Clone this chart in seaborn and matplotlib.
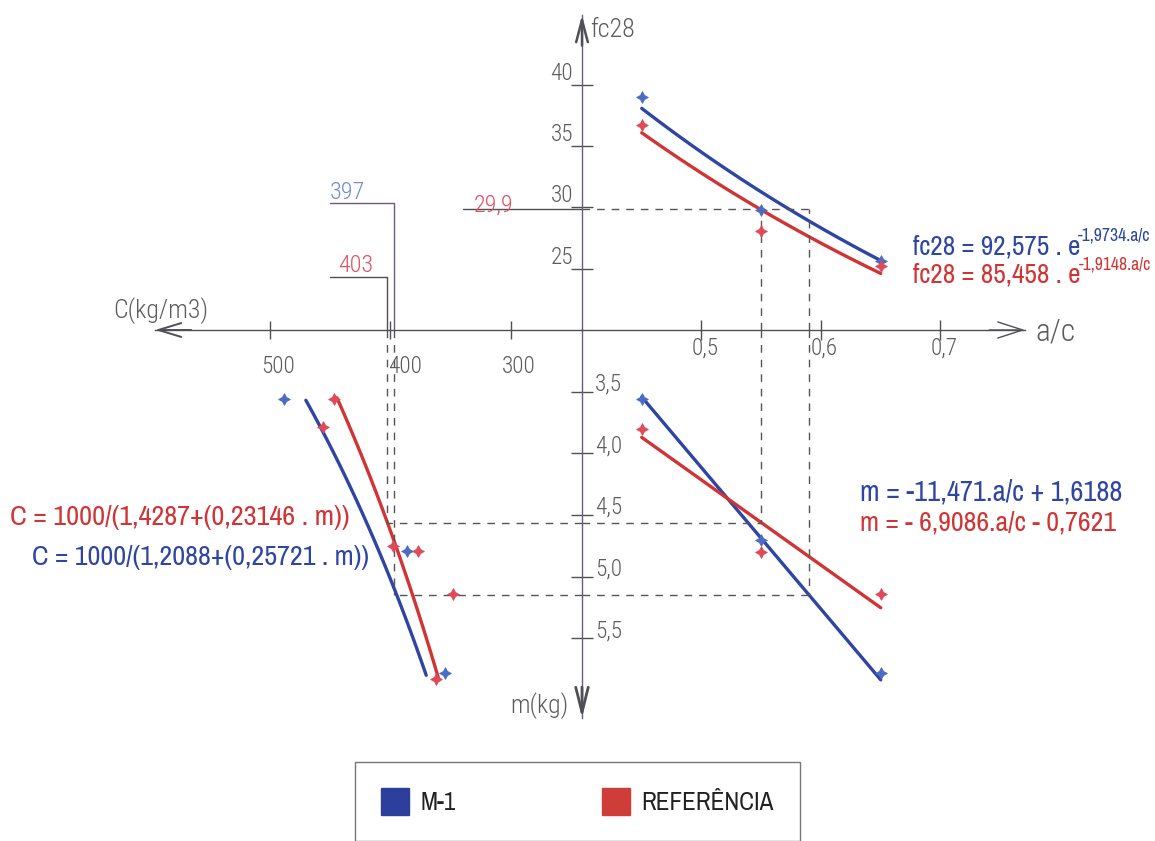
import numpy as np
import matplotlib
matplotlib.use("Agg")
import matplotlib.pyplot as plt
from matplotlib import font_manager
from matplotlib.patches import Patch
import seaborn as sns

# ---- measured points -------------------------------------------------
ac_pts = [0.45, 0.55, 0.65]
fc_m1_pts = [39.0, 29.8, 25.6]
fc_ref_pts = [36.7, 28.1, 25.2]
m_m1_pts = [3.56, 4.70, 5.78]
m_ref_pts = [3.80, 4.80, 5.14]
c_m1_pts = [488, 386, 355]
c_m1_pts_m = [3.56, 4.79, 5.78]
c_ref_pts = [447, 456, 398, 377, 348, 362]
c_ref_pts_m = [3.56, 3.79, 4.75, 4.79, 5.14, 5.83]

# ---- fitted laws, coefficients as printed --------------------------------
abrams_m1 = [92.575, -1.9734]      # fc28 = k1 . e^(k2.a/c)
abrams_ref = [85.458, -1.9148]
lyse_m1 = [-11.471, 1.6188]        # m = k3.a/c + k4 (m axis points down)
lyse_ref = [-6.9086, -0.7621]
molinari_m1 = [1.2088, 0.25721]    # C = 1000/(k5 + k6.m)
molinari_ref = [1.4287, 0.23146]
ac_fit_range = [0.45, 0.65]
m_fit_range_m1 = [3.57, 5.80]
m_fit_range_ref = [3.55, 5.84]

# ---- design values -----------------------------------------------------
fc_design = 29.9
ac_design_ref = 0.55
ac_design_m1 = 0.59
c_design_ref = 403
c_design_m1 = 397

fc_ticks = [25, 30, 35, 40]
ac_ticks = [0.5, 0.6, 0.7]
m_ticks = [3.5, 4.0, 4.5, 5.0, 5.5]
c_ticks = [500, 400, 300]

eq_fc_m1 = ("fc28 = 92,575 . e", "-1,9734.a/c")
eq_fc_ref = ("fc28 = 85,458 . e", "-1,9148.a/c")
eq_m_m1 = "m = -11,471.a/c + 1,6188"
eq_m_ref = "m = - 6,9086.a/c - 0,7621"
eq_c_ref = "C = 1000/(1,4287+(0,23146 . m))"
eq_c_m1 = "C = 1000/(1,2088+(0,25721 . m))"
series_names = ["M-1", "REFERÊNCIA"]

# ---- fonts: a narrow sans for the printed formulas ------------------------
sns.set_theme(style="white")
installed = {f.name for f in font_manager.fontManager.ttflist}
narrow_pref = ["Arial Narrow", "Liberation Sans Narrow", "Archivo Narrow", "PT Sans Narrow",
               "Roboto Condensed", "Pragati Narrow", "Fira Sans Condensed",
               "IBM Plex Sans Condensed", "Open Sans Condensed", "Asap Condensed",
               "Barlow Semi Condensed", "Encode Sans Condensed"]
NARROW = next((n for n in narrow_pref if n in installed), "Liberation Sans")
thin_pref = ["Roboto Condensed", "Fira Sans Condensed", "IBM Plex Sans Condensed",
             "Barlow Semi Condensed", NARROW]
THIN = next((n for n in thin_pref if n in installed), NARROW)
plt.rcParams["font.family"] = [NARROW, "Liberation Sans", "DejaVu Sans"]

BLUE = "#2e45a3"
RED = "#d13434"
BLUE_PT = "#4a6cc4"
RED_PT = "#e04a58"
AXIS = "#4f4f55"
VAXIS = "#6c5a80"
DASH = "#555555"
GREY_TXT = "#5c5c5c"

W, H = 1155, 841
OX, OY = 582, 330                  # origin of the four quadrants (pixels)
AC_PX, FC_PX, M_PX, C_PX = 1195.0, 12.25, 123.3, 1.205
ac0, fc0, m0, c0 = 0.4, 20.0, 3.0, 241.0


def fx(px):
    return px / W


def fy(py):
    return 1 - py / H


fig = plt.figure(figsize=(W / 100, H / 100), dpi=100)
fig.patch.set_facecolor("white")
renderer = fig.canvas.get_renderer()


def size_for(s, width_px, family, weight="normal"):
    """Font size (pt) giving the string a rendered width of width_px."""
    t = fig.text(0, 0, s, fontsize=20, family=family, weight=weight)
    w = t.get_window_extent(renderer).width
    t.remove()
    return 20 * width_px / w


x0, y0 = fx(OX), fy(OY)
ax_fc = fig.add_axes([x0, y0, 1 - x0, 1 - y0])   # fc28 vs a/c
ax_m = fig.add_axes([x0, 0, 1 - x0, y0])         # m vs a/c
ax_c = fig.add_axes([0, 0, x0, y0])              # m vs C
ax_q = fig.add_axes([0, y0, x0, 1 - y0])         # fc28 vs C (leaders)

ax_fc.set_xlim(ac0, ac0 + (W - OX) / AC_PX)
ax_fc.set_ylim(fc0, fc0 + OY / FC_PX)
ax_m.set_xlim(ax_fc.get_xlim())
ax_m.set_ylim(m0 + (H - OY) / M_PX, m0)
ax_c.set_xlim(c0 + OX / C_PX, c0)
ax_c.set_ylim(ax_m.get_ylim())
ax_q.set_xlim(ax_c.get_xlim())
ax_q.set_ylim(ax_fc.get_ylim())

for ax in (ax_fc, ax_m, ax_c, ax_q):
    ax.patch.set_alpha(0)
    ax.grid(False)
    for sp in ax.spines.values():
        sp.set_visible(False)
    ax.tick_params(which="both", left=False, right=False, top=False, bottom=False,
                   labelleft=False, labelright=False, labeltop=False, labelbottom=False)

# axis ends (pixel positions of arrow tips)
ac_end = ac0 + (1025 - OX) / AC_PX
c_end = c0 + (OX - 155) / C_PX
fc_end = fc0 + (OY - 15) / FC_PX
m_end = m0 + (718 - OY) / M_PX

ax_fc.spines["left"].set_visible(True)
ax_fc.spines["left"].set_bounds(fc0, fc_end)
ax_fc.spines["left"].set_color(VAXIS)
ax_fc.spines["bottom"].set_visible(True)
ax_fc.spines["bottom"].set_bounds(ac0, ac_end)
ax_fc.spines["bottom"].set_color(AXIS)
ax_m.spines["left"].set_visible(True)
ax_m.spines["left"].set_bounds(m0, m_end)
ax_m.spines["left"].set_color(VAXIS)
ax_c.spines["top"].set_visible(True)
ax_c.spines["top"].set_bounds(c0, c_end)
ax_c.spines["top"].set_color(AXIS)
for ax in (ax_fc, ax_m, ax_c):
    for sp in ax.spines.values():
        sp.set_linewidth(1.0)

tick_kw = dict(direction="inout", width=1.0, color=AXIS)
ax_fc.set_yticks(fc_ticks)
ax_fc.tick_params(axis="y", left=True, length=16, **tick_kw)
ax_fc.set_xticks(ac_ticks)
ax_fc.tick_params(axis="x", bottom=True, length=14, **tick_kw)
ax_m.set_xticks([])
ax_m.set_yticks(m_ticks)
ax_m.tick_params(axis="y", left=True, length=16, **tick_kw)
ax_c.set_yticks([])
ax_c.set_xticks(c_ticks)
ax_c.tick_params(axis="x", top=True, length=13, **tick_kw)

# tick labels (thin drafting style)
TICK_SIZE = size_for("500", 34, THIN, "light")
lab = dict(fontsize=TICK_SIZE, family=THIN, weight="light", color=GREY_TXT,
           textcoords="offset pixels")
for v in fc_ticks:
    ax_fc.annotate(f"{v}", xy=(0, v), xycoords=("axes fraction", "data"),
                   xytext=(-9, 5), ha="right", va="baseline", **lab)
for v in ac_ticks:
    ax_fc.annotate(f"{v:.1f}".replace(".", ","), xy=(v, 0), xycoords=("data", "axes fraction"),
                   xytext=(-10, -7), ha="left", va="top", **lab)
for v in m_ticks:
    ax_m.annotate(f"{v:.1f}".replace(".", ","), xy=(0, v), xycoords=("axes fraction", "data"),
                  xytext=(13, 1), ha="left", va="baseline", **lab)
for v in c_ticks:
    ax_c.annotate(f"{v}", xy=(v, 1), xycoords=("data", "axes fraction"),
                  xytext=(8 if v != 400 else 15, -25), ha="center", va="top", **lab)


# axis arrows
def arrow(ax, tip, tail, hl, hw, lw):
    ax.annotate("", xy=tip, xytext=tail, annotation_clip=False,
                arrowprops=dict(arrowstyle=f"->,head_length={hl},head_width={hw}",
                                color=AXIS, lw=lw, shrinkA=0, shrinkB=0,
                                mutation_scale=10, clip_on=False))


arrow(ax_fc, (ac_end, fc0), (ac_end - 0.03, fc0), 1.8, 0.58, 1.0)
arrow(ax_fc, (ac0, fc_end), (ac0, fc_end - 2.5), 1.6, 0.42, 1.8)
arrow(ax_c, (c_end, m0), (c_end - 30, m0), 1.65, 0.5, 1.4)
arrow(ax_m, (ac0, m_end), (ac0, m_end - 0.25), 1.8, 0.45, 2.0)

ax_lab = dict(color=GREY_TXT, family=THIN, weight="light", ha="left", va="baseline")
for s, x, y, w in (("fc28", 590, 37, 45), ("a/c", 1035, 340, 40),
                   ("C(kg/m3)", 113, 318, 95), ("m(kg)", 510, 713, 58)):
    fig.text(fx(x), fy(y), s, fontsize=size_for(s, w, THIN, "light"), **ax_lab)

# ---- fitted curves -------------------------------------------------------------
ac_line = np.linspace(ac_fit_range[0], ac_fit_range[1], 80)
line_kw = dict(linewidth=2.4, estimator=None, sort=False, legend=False)

for k, col in ((abrams_m1, BLUE), (abrams_ref, RED)):
    sns.lineplot(x=ac_line, y=k[0] * np.exp(k[1] * ac_line), ax=ax_fc, color=col, **line_kw)

for k, col in ((lyse_m1, BLUE), (lyse_ref, RED)):
    sns.lineplot(x=ac_line, y=-(k[0] * ac_line + k[1]), ax=ax_m, color=col, **line_kw)

for k, rng, col in ((molinari_m1, m_fit_range_m1, BLUE), (molinari_ref, m_fit_range_ref, RED)):
    m_line = np.linspace(rng[0], rng[1], 80)
    sns.lineplot(x=1000 / (k[0] + k[1] * m_line), y=m_line, ax=ax_c, color=col, **line_kw)

# ---- measured points -----------------------------------------------------------
pt_kw = dict(marker=(4, 1, 0), s=70, linewidth=0.6, zorder=5, legend=False)
sns.scatterplot(x=ac_pts, y=fc_m1_pts, ax=ax_fc, color=BLUE_PT, edgecolor=BLUE_PT, **pt_kw)
sns.scatterplot(x=ac_pts, y=fc_ref_pts, ax=ax_fc, color=RED_PT, edgecolor=RED_PT, **pt_kw)
sns.scatterplot(x=ac_pts, y=m_m1_pts, ax=ax_m, color=BLUE_PT, edgecolor=BLUE_PT, **pt_kw)
sns.scatterplot(x=ac_pts, y=m_ref_pts, ax=ax_m, color=RED_PT, edgecolor=RED_PT, **pt_kw)
sns.scatterplot(x=c_m1_pts, y=c_m1_pts_m, ax=ax_c, color=BLUE_PT, edgecolor=BLUE_PT, **pt_kw)
sns.scatterplot(x=c_ref_pts, y=c_ref_pts_m, ax=ax_c, color=RED_PT, edgecolor=RED_PT, **pt_kw)

# ---- design path ------------------------------------------------------------------
m_design_ref = -(lyse_ref[0] * ac_design_ref + lyse_ref[1])
m_design_m1 = -(lyse_m1[0] * ac_design_m1 + lyse_m1[1])
dash = dict(color=DASH, linewidth=1.0, linestyle=(0, (5.5, 5)))

ax_fc.plot([ac0, ac_design_m1], [fc_design, fc_design], **dash)
for a in (ac_design_ref, ac_design_m1):
    ax_fc.plot([a, a], [fc0, fc_design], **dash)
for a, mv in ((ac_design_ref, m_design_ref), (ac_design_m1, m_design_m1)):
    ax_m.plot([a, a], [m0, mv], **dash)
    ax_m.plot([ac0, a], [mv, mv], **dash)
for cv, mv in ((c_design_ref, m_design_ref), (c_design_m1, m_design_m1)):
    ax_c.plot([c0, cv], [mv, mv], **dash)
    ax_c.plot([cv, cv], [m0, mv], **dash)

# leaders in the upper-left quadrant
lead = dict(color=AXIS, linewidth=1.0)
ax_q.plot([c0, 340], [fc_design, fc_design], **lead)
ax_q.plot([c_design_m1, c_design_m1, 450], [fc0, 30.4, 30.4], color=VAXIS, linewidth=1.0)
ax_q.plot([c_design_ref, c_design_ref, 450], [fc0, 24.3, 24.3], **lead)

lead_txt = dict(fontsize=size_for("397", 35, THIN, "light"), family=THIN, weight="light",
                ha="left", va="baseline")
fig.text(fx(474), fy(212), f"{fc_design:.1f}".replace(".", ","), color="#e05064", **lead_txt)
fig.text(fx(330), fy(199), f"{c_design_m1}", color="#6f8ccf", **lead_txt)
fig.text(fx(338), fy(272), f"{c_design_ref}", color="#e05064", **lead_txt)

# ---- equations ------------------------------------------------------------------------
fc_main = size_for(eq_fc_m1[0], 167, NARROW)
fc_sup = size_for(eq_fc_m1[1], 72, NARROW)
for (main, sup), col, base in ((eq_fc_m1, BLUE, 255), (eq_fc_ref, RED, 283)):
    t = fig.text(fx(913), fy(base), main, color=col, fontsize=fc_main, ha="left", va="baseline")
    ax_fc.annotate(sup, xy=(1, 1), xycoords=t, xytext=(-2, 7), textcoords="offset pixels",
                   ha="left", va="top", color=col, fontsize=fc_sup)

for s, col, x, base, w in ((eq_m_m1, BLUE, 860, 500, 262), (eq_m_ref, RED, 860, 530, 257),
                           (eq_c_ref, RED, 10, 525, 340), (eq_c_m1, BLUE, 32, 565, 338)):
    fig.text(fx(x), fy(base), s, color=col, fontsize=size_for(s, w, NARROW),
             ha="left", va="baseline")

# ---- legend ------------------------------------------------------------------------------
leg_size = size_for(series_names[1], 133, NARROW)
handles = [Patch(facecolor="#2c3f9c", edgecolor="#2c3f9c", label=series_names[0]),
           Patch(facecolor="#cf3d38", edgecolor="#cf3d38", label=series_names[1])]
px_per_em = leg_size * 100 / 72
leg_box = (fx(355), fy(841), fx(800) - fx(355), fy(762) - fy(841))
leg = fig.legend(handles=handles, loc="upper left", bbox_to_anchor=leg_box, mode="expand",
                 ncol=2, frameon=True, fancybox=False, edgecolor="#777777", framealpha=1,
                 prop=dict(size=leg_size, family=NARROW),
                 handlelength=28 / px_per_em, handleheight=32 / px_per_em,
                 handletextpad=12 / px_per_em, columnspacing=2.0,
                 borderpad=26 / px_per_em, borderaxespad=0)
leg.get_frame().set_linewidth(1.0)
for t in leg.get_texts():
    t.set_color("#222222")

fig.savefig("out.png", dpi=100, facecolor="white")
